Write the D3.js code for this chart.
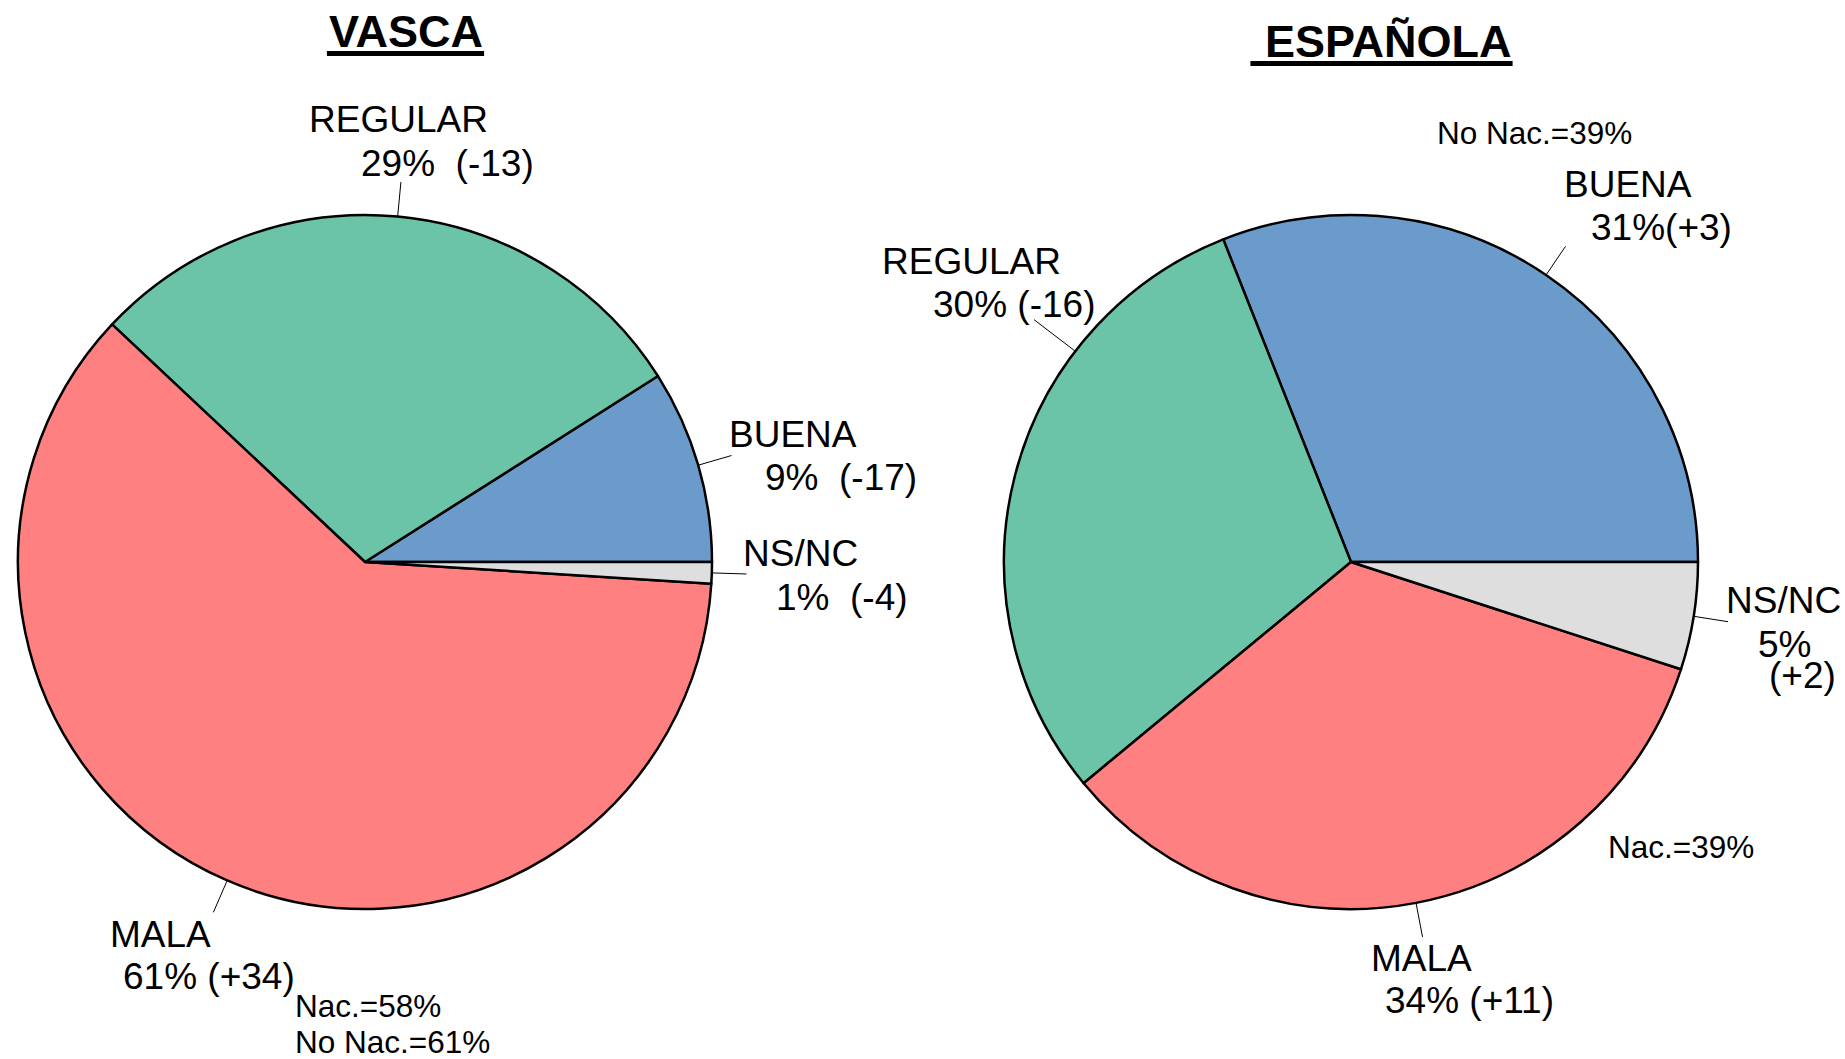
<!DOCTYPE html>
<html>
<head>
<meta charset="utf-8">
<script src="https://cdn.jsdelivr.net/npm/d3@7"></script>
<style>
  body { margin: 0; background: #fff; }
  text { font-family: "Liberation Sans", Arial, sans-serif; fill: #000; white-space: pre; }
</style>
</head>
<body>
<div id="chart"></div>
<script>
// data
var categories = ["BUENA", "REGULAR", "MALA", "NS/NC"];
var sliceColors = ["#6A9BCB", "#6CC4A8", "#FF8080", "#DEDEDE"];

var vascaValues = [9, 29, 61, 1];
var vascaChange = ["-17", "-13", "+34", "-4"];
var vascaSep = ["  ", "  ", " ", "  "];
var vascaNotes = ["Nac.=58%", "No Nac.=61%"];

var espanolaValues = [31, 30, 34, 5];
var espanolaChange = ["+3", "-16", "+11", "+2"];
var espanolaSep = ["", " ", " ", "\n"];
var espanolaNotes = ["No Nac.=39%", "Nac.=39%"];

// layout
var W = 1845, H = 1059, R = 347;

var charts = [
  {
    title: "VASCA", titleX: 406, titleY: 47,
    cx: 365, cy: 562,
    values: vascaValues, change: vascaChange, sep: vascaSep,
    // label line anchors (start x, baseline y) per category
    labels: [
      [[729, 447], [765, 490]],
      [[309, 132], [361, 176]],
      [[110, 947], [123, 989]],
      [[743, 566], [776, 610]]
    ],
    leader: [null, null, null, null],
    notes: vascaNotes,
    notePos: [[295, 1017], [295, 1053]]
  },
  {
    title: " ESPAÑOLA", titleX: 1382, titleY: 57,
    cx: 1351, cy: 562,
    values: espanolaValues, change: espanolaChange, sep: espanolaSep,
    labels: [
      [[1564, 197], [1591, 240]],
      [[882, 274], [933, 317]],
      [[1371, 971], [1385, 1013]],
      [[1726, 613], [1758, 657], [1769, 688]]
    ],
    leader: [null, {deg: 142.6, len: 1.15}, null, null],
    notes: espanolaNotes,
    notePos: [[1437, 144], [1608, 858]]
  }
];

var svg = d3.select("#chart").append("svg")
  .attr("width", W)
  .attr("height", H);

var color = d3.scaleOrdinal().domain(categories).range(sliceColors);

// counterclockwise from 3 o'clock, like the original
var pie = d3.pie()
  .sort(null)
  .value(function(d) { return d.value; })
  .startAngle(Math.PI / 2)
  .endAngle(Math.PI / 2 - 2 * Math.PI);

var arc = d3.arc().innerRadius(0).outerRadius(R);

charts.forEach(function(c) {
  var data = categories.map(function(cat, i) {
    return { cat: cat, value: c.values[i], change: c.change[i], sep: c.sep[i], idx: i };
  });

  // title with underline
  var title = svg.append("text")
    .attr("x", c.titleX)
    .attr("y", c.titleY)
    .attr("text-anchor", "middle")
    .style("font-size", "45px")
    .style("font-weight", "bold")
    .text(c.title);
  var tw = title.node().getComputedTextLength();
  svg.append("rect")
    .attr("x", c.titleX - tw / 2 - 2)
    .attr("y", c.titleY + 4)
    .attr("width", tw + 3)
    .attr("height", 5)
    .style("fill", "#000");

  var g = svg.append("g").attr("transform", "translate(" + c.cx + "," + c.cy + ")");

  var arcs = pie(data);

  g.selectAll("path.slice")
    .data(arcs)
    .enter().append("path")
    .attr("class", "slice")
    .attr("d", arc)
    .style("fill", function(d) { return color(d.data.cat); })
    .style("stroke", "#000")
    .style("stroke-width", 2.5)
    .style("stroke-linejoin", "round");

  // leader lines
  g.selectAll("line.leader")
    .data(arcs)
    .enter().append("line")
    .attr("class", "leader")
    .each(function(d) {
      var o = c.leader[d.data.idx];
      var a = o ? (90 - o.deg) * Math.PI / 180 : (d.startAngle + d.endAngle) / 2;
      var len = o ? o.len : 1.1;
      d3.select(this)
        .attr("x1", Math.sin(a) * R)
        .attr("y1", -Math.cos(a) * R)
        .attr("x2", Math.sin(a) * R * len)
        .attr("y2", -Math.cos(a) * R * len);
    })
    .style("stroke", "#000")
    .style("stroke-width", 1);

  // labels: one text per slice, one tspan per line
  data.forEach(function(d) {
    var lines = [d.cat].concat((d.value + "%" + d.sep + "(" + d.change + ")").split("\n"));
    var pos = c.labels[d.idx];
    var t = svg.append("text").style("font-size", "37px");
    lines.forEach(function(s, j) {
      t.append("tspan")
        .attr("x", pos[j][0])
        .attr("y", pos[j][1])
        .text(s);
    });
  });

  // notes
  c.notes.forEach(function(t, j) {
    svg.append("text")
      .attr("x", c.notePos[j][0])
      .attr("y", c.notePos[j][1])
      .style("font-size", "31.5px")
      .text(t);
  });
});
</script>
</body>
</html>
